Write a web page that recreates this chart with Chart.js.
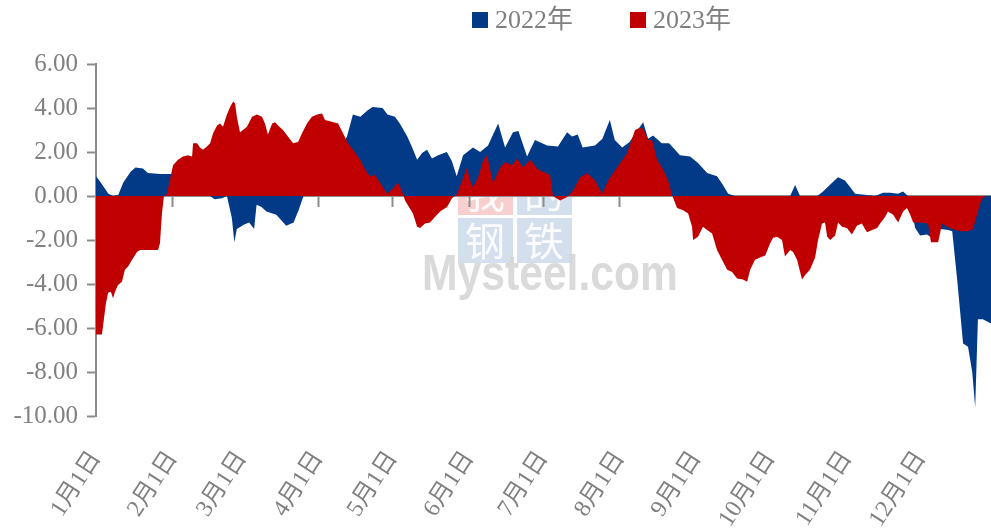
<!DOCTYPE html>
<html lang="zh-CN">
<head>
<meta charset="utf-8">
<title>2022年 / 2023年</title>
<script src="https://cdn.jsdelivr.net/npm/chart.js@4.4.0/dist/chart.umd.min.js"></script>
<style>
  html, body { margin: 0; padding: 0; background: #fff; overflow: hidden; }
  #wrap { position: relative; width: 991px; height: 532px; }
</style>
</head>
<body>
<div id="wrap"><canvas id="spreadChart"></canvas></div>
<script>
"use strict";

// x = day of year, 1月1日 = 0
const monthStarts = [0, 31, 59, 90, 120, 151, 181, 212, 243, 273, 304, 334];
const monthLabels = ["1月1日", "2月1日", "3月1日", "4月1日", "5月1日", "6月1日",
    "7月1日", "8月1日", "9月1日", "10月1日", "11月1日", "12月1日"];

const seriesNames = ["2022年", "2023年"];
const seriesColors = ["#023a88", "#c00000"];

const days2022 = [0, 2, 5, 7, 9, 11, 14, 16, 19, 21, 26, 31, 33, 37, 41, 45, 48, 51, 53, 55,
    56, 57, 60, 62, 64, 65, 67, 69, 73, 77, 80, 82, 84, 86, 89, 93, 97, 100, 101.6, 104,
    107, 110, 112, 116, 118, 121, 123, 126, 128, 130, 132, 134, 136, 138.5, 142, 144, 146, 148.6, 152.6, 155.5,
    158.7, 162.8, 165.6, 168.8, 171, 174.5, 177.7, 182.6, 187, 190.7, 192.7, 195, 197, 202, 205, 208, 210, 213, 216, 218.6,
    221.5, 223.5, 225.5, 229, 232, 236.4, 240.5, 243.7, 247.4, 251.4, 253.8, 255.9, 258.7, 262, 268, 275, 280, 281, 283, 285,
    288, 292, 294.3, 298.4, 300.4, 303.2, 305.3, 307.3, 312, 315.4, 318.6, 321.5, 324.7, 326.7, 328.7, 330.4, 331.6, 333.6, 336.4, 338.9,
    341.7, 345, 346.6, 348.6, 351, 353, 354.7, 355.9, 357, 359, 362.3, 364];
const values2022 = [0.9, 0.6, 0.1, 0.0, 0.05, 0.6, 1.1, 1.3, 1.25, 1.05, 1.0, 1.0, 0.8, 0.6, 0.4, 0.1, -0.15, -0.1, 0, -1.0,
    -2.1, -1.5, -1.3, -1.2, -1.5, -0.4, -0.5, -0.7, -0.85, -1.35, -1.2, -0.65, 0, 0.5, 1.2, 1.8, 2.2, 2.4, 2.7, 3.7,
    3.6, 3.9, 4.05, 4.0, 3.7, 3.6, 3.3, 2.7, 2.2, 1.65, 1.95, 2.1, 1.7, 1.85, 2.0, 1.6, 0.9, 1.85, 2.2, 2.0,
    2.3, 3.3, 2.2, 2.9, 2.95, 1.8, 2.55, 2.3, 2.25, 2.9, 2.7, 2.8, 2.2, 2.3, 2.6, 3.45, 2.55, 2.2, 2.45, 2.9,
    3.35, 2.6, 2.75, 2.4, 2.4, 1.85, 1.8, 1.5, 1.05, 0.9, 0.5, 0.1, 0, -0.1, -0.2, -0.3, -0.1, 0, 0.5, 0,
    -0.2, 0, 0.2, 0.65, 0.85, 0.7, 0.4, 0.1, 0.05, 0, 0.15, 0.15, 0.1, 0.2, 0, -0.8, -1.45, -1.8, -1.75, -1.95,
    -1.5, -1.55, -1.6, -3.8, -6.7, -6.85, -8.0, -9.6, -5.6, -5.6, -5.8, -5.9];

const days2023 = [0, 2.4, 2.8, 4, 4.9, 6, 6.9, 7.7, 8.9, 10.5, 11.7, 13, 14.6, 16.6, 17.8, 25.1, 25.9, 26.7, 27.5, 28.7,
    31.2, 33.2, 35.2, 37.2, 38.9, 39.3, 40.9, 42.1, 43.3, 44.9, 46.2, 47.4, 49, 50.2, 51.4, 53, 54.3, 55.5, 56.3, 57.1,
    58.3, 59.5, 61.1, 63.2, 65.2, 67.2, 68.4, 69.6, 71.3, 72.5, 73.7, 75.7, 77.7, 79.8, 81.8, 83.4, 85.4, 87.4, 89.5, 91.5,
    92.7, 94.7, 98, 100, 102, 104, 106.9, 108.9, 110.9, 113, 115.8, 117.8, 119.8, 122.3, 123.9, 125.1, 128.3, 130, 131.2, 133.2,
    135.2, 137.2, 139.3, 142.1, 144.1, 145.3, 146.2, 148.2, 150.2, 151.4, 152.6, 154.7, 156.7, 158.3, 160.7, 163.6, 165.6, 168.4, 170.4, 172.9,
    175.7, 179, 183.8, 185, 187.9, 190.7, 193.1, 196, 198.8, 202, 204.9, 207.3, 210.9, 215, 218.2, 220.2, 221.5, 223.5, 225.1, 227.1,
    229.1, 231.6, 233.2, 235.2, 237.7, 239.7, 241.3, 241.7, 243.7, 245.7, 247.4, 249.4, 251.4, 253.4, 255.5, 257.5, 259.5, 261.9, 263.6, 264.8,
    266.8, 268.8, 270.9, 272.9, 274.1, 275.7, 277.7, 278.9, 281, 282.2, 283.8, 285.8, 287, 289, 291.1, 292.3, 293.9, 295.1, 296, 297.2,
    299.2, 300.4, 302, 304, 306, 308, 310, 312.1, 314.2, 316.2, 317.4, 319.4, 320.6, 322.7, 324.7, 326.7, 328.3, 329.6, 330.8, 333.6,
    336.8, 338, 340.9, 342.5, 344.5, 346.6, 349.8, 353, 355, 357.9, 359.1, 361];
const values2023 = [-6.3, -6.3, -5.95, -4.9, -4.4, -4.35, -4.65, -4.35, -4.05, -3.9, -3.35, -3.2, -2.9, -2.55, -2.45, -2.45, -2.15, -0.8, 0, 0.1,
    1.4, 1.65, 1.8, 1.85, 1.8, 2.4, 2.4, 2.2, 2.1, 2.25, 2.4, 2.85, 3.2, 3.3, 3.15, 3.7, 4.05, 4.3, 4.2, 3.55,
    2.9, 3.0, 3.15, 3.6, 3.7, 3.6, 3.3, 2.8, 3.3, 3.35, 3.2, 3.0, 2.7, 2.4, 2.45, 2.85, 3.3, 3.6, 3.7, 3.75,
    3.45, 3.4, 3.3, 2.85, 2.4, 2.1, 1.65, 1.2, 0.9, 0.95, 0.45, 0.1, 0.3, 0.6, 0.2, -0.2, -0.8, -1.4, -1.45, -1.25,
    -1.2, -0.95, -0.7, -0.5, -0.1, 0, 0.1, 0.7, 1.3, 0.7, 0.4, 0.85, 1.6, 1.85, 0.6, 1.3, 1.55, 1.4, 1.7, 1.3,
    1.65, 1.2, 0.95, 0, -0.2, -0.05, 0.25, 0.85, 1.05, 0.7, 0.1, 0.7, 1.3, 1.95, 3.0, 3.1, 3.05, 2.55, 2.55, 1.65,
    1.3, 0.7, 0.05, -0.55, -0.65, -0.8, -1.4, -2.0, -1.85, -1.4, -1.55, -1.7, -2.45, -2.9, -3.35, -3.45, -3.75, -3.8, -3.9, -3.35,
    -2.9, -2.8, -2.7, -2.15, -1.9, -1.85, -2.0, -2.75, -2.45, -2.55, -2.9, -3.8, -3.6, -3.35, -2.8, -2.0, -1.25, -1.2, -1.85, -2.0,
    -1.8, -1.2, -1.4, -1.45, -1.75, -1.35, -1.25, -1.65, -1.55, -1.45, -1.25, -0.95, -0.7, -0.85, -1.2, -0.7, -0.55, -0.85, -1.2, -1.2,
    -1.25, -2.1, -2.1, -1.25, -1.4, -1.5, -1.6, -1.6, -1.5, -0.35, -0.05, 0];

const FONT = "'Liberation Serif', 'Noto Sans CJK SC', serif";
const TEXT_GREY = "#808080";
const AXIS_GREY = "#8c8c8c";

const toPoints = (days, values) => days.map((d, i) => ({ x: d, y: values[i] }));
const useMonthTicks = (axis) => { axis.ticks = monthStarts.map((v) => ({ value: v })); };

// faint site watermark behind the areas
const watermark = {
    id: "watermark",
    beforeDraw(chart) {
        const ctx = chart.ctx;
        ctx.save();
        const cells = [
            { x: 458, y: 170, c: "rgba(240,160,160,0.5)", t: "我" },
            { x: 517, y: 170, c: "rgba(170,192,222,0.5)", t: "的" },
            { x: 458, y: 218, c: "rgba(170,192,222,0.5)", t: "钢" },
            { x: 517, y: 218, c: "rgba(170,192,222,0.5)", t: "铁" }
        ];
        ctx.font = "40px 'Noto Sans CJK SC', sans-serif";
        ctx.textAlign = "center";
        ctx.textBaseline = "middle";
        cells.forEach((cell) => {
            ctx.fillStyle = cell.c;
            ctx.fillRect(cell.x, cell.y, 55, 45);
            ctx.fillStyle = "rgba(255,255,255,0.9)";
            ctx.fillText(cell.t, cell.x + 27, cell.y + 23);
        });
        ctx.font = "bold 50px 'Liberation Sans', sans-serif";
        ctx.textAlign = "left";
        ctx.textBaseline = "alphabetic";
        ctx.fillStyle = "rgba(214,214,214,0.9)";
        ctx.fillText("Mysteel.com", 422, 290, 256);
        ctx.restore();
    }
};

const yearLegend = {
    id: "yearLegend",
    afterDraw(chart, args, opts) {
        const ctx = chart.ctx;
        ctx.save();
        ctx.font = opts.font;
        ctx.textBaseline = "middle";
        let x = opts.left;
        chart.data.datasets.forEach((ds) => {
            ctx.fillStyle = ds.backgroundColor;
            ctx.fillRect(x, opts.top, opts.box, opts.box);
            x += opts.box + opts.gap;
            ctx.fillStyle = opts.color;
            ctx.fillText(ds.label, x, opts.top + opts.box / 2 + 1);
            x += ctx.measureText(ds.label).width + opts.spacing;
        });
        ctx.restore();
    }
};

document.addEventListener("DOMContentLoaded", () => {
    const ctx = document.getElementById("spreadChart").getContext("2d");
    new Chart(ctx, {
        type: "line",
        data: {
            datasets: [
                {
                    label: seriesNames[0],
                    data: toPoints(days2022, values2022),
                    backgroundColor: seriesColors[0],
                    borderWidth: 0,
                    fill: "origin",
                    order: 2
                },
                {
                    label: seriesNames[1],
                    data: toPoints(days2023, values2023),
                    backgroundColor: seriesColors[1],
                    borderWidth: 0,
                    fill: "origin",
                    order: 1
                }
            ]
        },
        options: {
            responsive: true,
            maintainAspectRatio: false,
            animation: false,
            layout: { padding: { top: 64, left: 0, right: 0, bottom: 0 } },
            elements: { point: { radius: 0 }, line: { tension: 0 } },
            plugins: {
                legend: { display: false },
                tooltip: { enabled: false },
                yearLegend: { left: 472, top: 12, box: 16, gap: 7, spacing: 57, font: "26px " + FONT, color: TEXT_GREY }
            },
            scales: {
                x: {
                    type: "linear",
                    min: 0,
                    max: 362.3,
                    afterBuildTicks: useMonthTicks,
                    afterFit: (axis) => { axis.height = 116; },
                    grid: { display: false, drawTicks: false },
                    border: { display: false },
                    ticks: {
                        autoSkip: false,
                        minRotation: 57,
                        maxRotation: 57,
                        padding: 30,
                        color: TEXT_GREY,
                        font: { family: FONT, size: 24 },
                        callback: (v, i) => monthLabels[i]
                    }
                },
                x0: {
                    type: "linear",
                    position: { y: 0 },
                    min: 0,
                    max: 362.3,
                    z: 1,
                    afterBuildTicks: useMonthTicks,
                    grid: { drawOnChartArea: false, drawTicks: true, tickLength: 10, color: AXIS_GREY, tickWidth: 2 },
                    border: { display: true, color: AXIS_GREY, width: 2 },
                    ticks: { display: false }
                },
                y: {
                    min: -10,
                    max: 6,
                    z: 1,
                    afterFit: (axis) => { axis.width = 96; },
                    grid: { drawOnChartArea: false, drawTicks: true, tickLength: 9, color: AXIS_GREY, tickWidth: 2 },
                    border: { display: true, color: AXIS_GREY, width: 2 },
                    ticks: {
                        stepSize: 2,
                        padding: 9,
                        color: TEXT_GREY,
                        font: { family: FONT, size: 25 },
                        callback: (v) => v.toFixed(2)
                    }
                }
            }
        },
        plugins: [watermark, yearLegend]
    });
});
</script>
</body>
</html>
